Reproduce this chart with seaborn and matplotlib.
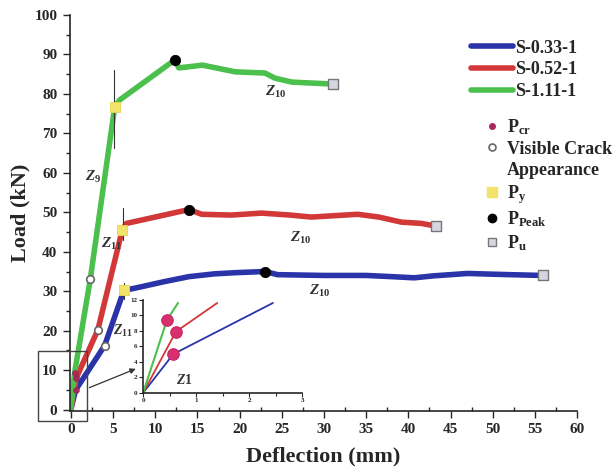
import matplotlib
matplotlib.use("Agg")
import matplotlib.pyplot as plt
from matplotlib.lines import Line2D
from matplotlib.patches import Rectangle
import numpy as np
import pandas as pd
import seaborn as sns

# ---- load-deflection curves (mm, kN) ----
names = ["S-0.33-1", "S-0.52-1", "S-1.11-1"]
colors = ["#2a34a8", "#d23838", "#4cc04c"]

defl_033 = [0, 0.57, 4.0, 6.3, 7.2, 8.5, 11, 14, 17, 19.5, 23, 24.5, 30, 35, 38, 40.7, 43, 47, 52, 55.9]
load_033 = [0, 5.0, 16.2, 30.3, 30.6, 31.2, 32.4, 33.7, 34.4, 34.7, 35.0, 34.2, 34.0, 34.0, 33.7, 33.4, 33.9, 34.5, 34.2, 34.0]

defl_052 = [0, 0.62, 3.2, 6.1, 6.6, 10, 14.0, 15.5, 19, 22.6, 26, 28.5, 34, 36.5, 39.2, 41.5, 43.3]
load_052 = [0, 7.9, 20.2, 45.6, 47.2, 48.8, 50.7, 49.5, 49.3, 49.8, 49.3, 48.8, 49.5, 48.8, 47.5, 47.2, 46.5]

defl_111 = [0, 0.45, 2.3, 5.2, 5.8, 12.3, 12.8, 15.6, 19.5, 23, 24.2, 26.2, 31.1]
load_111 = [0, 9.4, 33, 76.7, 78.5, 88.6, 86.6, 87.3, 85.6, 85.3, 84.0, 83.0, 82.5]

# characteristic points per specimen (0.33, 0.52, 1.11)
pcr_x = [0.57, 0.62, 0.45]
pcr_y = [5.0, 7.9, 9.4]
crack_x = [4.0, 3.2, 2.3]
crack_y = [16.2, 20.2, 33]
py_x = [6.3, 6.1, 5.2]
py_y = [30.3, 45.6, 76.7]
peak_x = [23, 14.0, 12.3]
peak_y = [35.0, 50.7, 88.6]
pu_x = [55.9, 43.3, 31.1]
pu_y = [34.0, 46.5, 82.5]

# initial (elastic) branch shown in the zoomed view
ini_x = [[0, 0.57, 2.45], [0, 0.62, 1.4], [0, 0.45, 0.66]]
ini_y = [[0, 5.0, 11.6], [0, 7.9, 11.6], [0, 9.4, 11.6]]

# ---- style ----
sns.set_style("ticks")
plt.rcParams["font.family"] = ["Liberation Serif", "DejaVu Serif"]
plt.rcParams["font.weight"] = "bold"
plt.rcParams["mathtext.fontset"] = "custom"
plt.rcParams["mathtext.rm"] = "Liberation Serif"
plt.rcParams["mathtext.it"] = "Liberation Serif:italic"
plt.rcParams["mathtext.bf"] = "Liberation Serif:bold"

df = pd.concat([
    pd.DataFrame({"Deflection": d, "Load": l, "Specimen": n})
    for d, l, n in zip([defl_033, defl_052, defl_111],
                       [load_033, load_052, load_111], names)
], ignore_index=True)

fig = plt.figure(figsize=(6.14, 4.70), dpi=100)
ax = fig.add_axes([0.114, 0.126, 0.826, 0.842])

sns.lineplot(data=df, x="Deflection", y="Load", hue="Specimen",
             palette=dict(zip(names, colors)), sort=False, estimator=None,
             lw=4, legend=False, ax=ax, zorder=2)

# small vertical marks at yield
for x0, y0, y1 in [(6.3, 28, 32), (6.15, 43, 51), (5.1, 66.4, 86)]:
    ax.plot([x0, x0], [y0, y1], color="#333333", lw=0.8, zorder=3)

sns.scatterplot(x=pcr_x, y=pcr_y, ax=ax, color="#a8285e", s=18, edgecolor="#7a1a44", zorder=5)
sns.scatterplot(x=crack_x, y=crack_y, ax=ax, facecolor="white", edgecolor="#666666",
                s=30, linewidth=1.2, zorder=5)
sns.scatterplot(x=py_x, y=py_y, ax=ax, color="#f2e46a", marker="s", s=60,
                edgecolor="#e8d850", zorder=5)
sns.scatterplot(x=peak_x, y=peak_y, ax=ax, color="black", s=55, edgecolor="black", zorder=5)
sns.scatterplot(x=pu_x, y=pu_y, ax=ax, color="#d6d6e0", marker="s", s=45,
                edgecolor="#777777", linewidth=1, zorder=5)

# segment labels
zk = dict(fontsize=11, color="#333333", style="italic", zorder=6)
ax.text(1.7, 58, r"$Z_{9}$", **zk)
ax.text(23.0, 79.5, r"$Z_{10}$", **zk)
ax.text(3.6, 41.0, r"$Z_{11}$", **zk)
ax.text(26.0, 42.5, r"$Z_{10}$", **zk)
ax.text(5.0, 19.0, r"$Z_{11}$", fontsize=10, color="#333333", zorder=6)
ax.text(28.2, 29.0, r"$Z_{10}$", **zk)

ax.set_xlim(-0.1, 60)
ax.set_ylim(-0.3, 100)
ax.set_xticks(np.arange(0, 61, 5))
ax.set_yticks(np.arange(0, 101, 10))
ax.set_xticks(np.arange(2.5, 60, 5), minor=True)
ax.set_yticks(np.arange(5, 100, 10), minor=True)
ax.tick_params(which="major", length=5, width=1, labelsize=11, pad=4)
ax.tick_params(which="minor", length=3, width=1)
ax.tick_params(axis="x", which="minor", direction="in")
for lab in ax.get_xticklabels() + ax.get_yticklabels():
    lab.set_fontweight("bold")
ax.set_xlabel("Deflection (mm)", fontsize=16, fontweight="bold", labelpad=7)
ax.set_ylabel("Load (kN)", fontsize=16, fontweight="bold", labelpad=3)
for s in ["left", "bottom"]:
    ax.spines[s].set_linewidth(1.2)
sns.despine(ax=ax)

# box around the origin region and pointer to the zoomed view
ax.add_patch(Rectangle((-3.9, -3.0), 5.8, 17.9, fill=False, ec="#444444", lw=1,
                       clip_on=False, zorder=4))
ax.annotate("", xy=(8.0, 10.6), xytext=(1.9, 5.3),
            arrowprops=dict(arrowstyle="-|>", color="#333333", lw=0.9,
                            mutation_scale=8), zorder=4)

# zoomed view of the initial branch
axi = fig.add_axes([0.233, 0.164, 0.259, 0.198])
axi.patch.set_alpha(0)
for xs, ys, c, w in zip(ini_x, ini_y, colors, [1.3, 1.3, 1.5]):
    sns.lineplot(x=xs, y=ys, ax=axi, color=c, lw=w, sort=False, estimator=None)
sns.scatterplot(x=pcr_x, y=pcr_y, ax=axi, color="#d8306e", s=70,
                edgecolor="#c02060", zorder=5)
axi.text(0.62, 1.2, r"$Z1$", fontsize=10, color="#333333")
axi.set_xlim(0, 3)
axi.set_ylim(0, 12)
axi.set_xticks([0, 1, 2, 3])
axi.set_yticks(np.arange(0, 13, 2))
axi.set_xticks(np.arange(0.5, 3, 0.5), minor=True)
axi.tick_params(which="major", labelsize=5, length=3, width=0.8, pad=1)
axi.tick_params(which="minor", length=2, width=0.8)
for s in ["left", "bottom"]:
    axi.spines[s].set_linewidth(1.2)
sns.despine(ax=axi)

# legends
line_handles = [Line2D([], [], color=c, lw=4) for c in colors]
leg1 = ax.legend(line_handles, names, loc="upper left",
                 bbox_to_anchor=(0.753, 0.935), bbox_transform=fig.transFigure,
                 frameon=False, handlelength=2.3, handletextpad=0.1,
                 labelspacing=0.27, borderpad=0, prop=dict(size=13, weight="bold"))
ax.add_artist(leg1)

mk_handles = [
    Line2D([], [], ls="none", marker="o", ms=4, color="#a8285e"),
    Line2D([], [], ls="none", marker="o", ms=5, mfc="white", mec="#666666", mew=1.2),
    Line2D([], [], ls="none", marker=None),
    Line2D([], [], ls="none", marker="s", ms=7, color="#f2e46a"),
    Line2D([], [], ls="none", marker="o", ms=6, color="black"),
    Line2D([], [], ls="none", marker="s", ms=6, mfc="#d6d6e0", mec="#777777"),
]
mk_labels = [r"$\mathbf{P_{cr}}$", "Visible Crack", "Appearance",
             r"$\mathbf{P_{y}}$", r"$\mathbf{P_{Peak}}$", r"$\mathbf{P_{u}}$"]
ax.legend(mk_handles, mk_labels, loc="upper left",
          bbox_to_anchor=(0.775, 0.77), bbox_transform=fig.transFigure,
          frameon=False, handlelength=0.8, handletextpad=0.4,
          labelspacing=0.22, borderpad=0, prop=dict(size=13, weight="bold"))

fig.savefig("out.png", dpi=100)
